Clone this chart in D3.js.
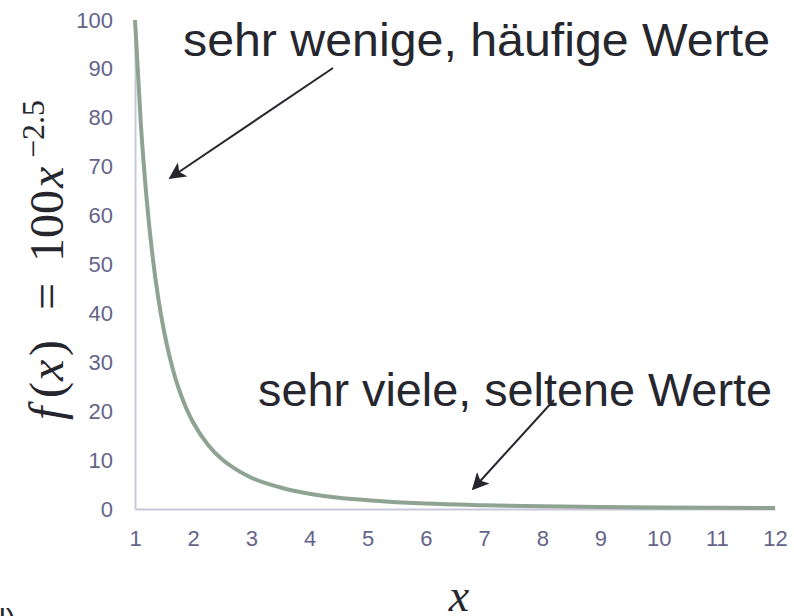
<!DOCTYPE html>
<html>
<head>
<meta charset="utf-8">
<script src="https://cdn.jsdelivr.net/npm/d3@7"></script>
<style>
  body { margin: 0; background: #fff; }
  svg { display: block; }
  .tick text { font-family: "Liberation Sans", Arial, sans-serif; font-size: 22px; }
</style>
</head>
<body>
<svg id="chart" width="794" height="616"></svg>
<script>
const xVals = [1, 1.1, 1.2, 1.3, 1.4, 1.5, 1.6, 1.7, 1.8, 1.9, 2, 2.25, 2.5, 2.75, 3, 3.5, 4, 4.5, 5, 6, 7, 8, 9, 10, 11, 12];
const yVals = [100, 78.8, 63.4, 51.9, 43.1, 36.3, 30.9, 26.5, 23.0, 20.1, 17.7, 13.2, 10.1, 8.0, 6.4, 4.4, 3.1, 2.3, 1.8, 1.1, 0.77, 0.55, 0.41, 0.32, 0.25, 0.2];
const xTicks = [1, 2, 3, 4, 5, 6, 7, 8, 9, 10, 11, 12];
const yTicks = [0, 10, 20, 30, 40, 50, 60, 70, 80, 90, 100];
const noteHaut = 'sehr wenige, häufige Werte';
const noteBas = 'sehr viele, seltene Werte';

var marge = {haut: 20, droite: 19, bas: 107, gauche: 135};
var largeur = 794, hauteur = 616;

const svg = d3.select('#chart');

var xScale = d3.scaleLinear().domain([1, 12]).range([marge.gauche, largeur - marge.droite]);
var yScale = d3.scaleLinear().domain([0, 100]).range([hauteur - marge.bas, marge.haut]);

const couleurAxe = '#c8c8d8';
const couleurTexte = '#64648a';

// axes
var xAxis = g => g
    .attr('transform', `translate(0, ${yScale(0)})`)
    .call(d3.axisBottom(xScale).tickValues(xTicks).tickFormat(d3.format('d')).tickSize(0).tickPadding(21));
var yAxis = g => g
    .attr('transform', `translate(${marge.gauche},0)`)
    .call(d3.axisLeft(yScale).tickValues(yTicks).tickSize(0).tickPadding(22));

svg.append('g').attr('class', 'axeY').call(yAxis);
svg.append('g').attr('class', 'axeX').call(xAxis);

svg.selectAll('.domain').attr('stroke', couleurAxe).attr('stroke-width', 2);
svg.selectAll('.tick text').attr('fill', couleurTexte);

// courbe
const points = xVals.map((x, i) => [x, yVals[i]]);
var ligne = d3.line()
    .x(d => xScale(d[0]))
    .y(d => yScale(d[1]))
    .curve(d3.curveMonotoneX);

svg.append('path')
    .datum(points)
    .attr('d', ligne)
    .attr('fill', 'none')
    .attr('stroke', '#8fa393')
    .attr('stroke-width', 4);

// fleches
const defs = svg.append('defs');
defs.append('marker')
    .attr('id', 'fleche')
    .attr('viewBox', '0 0 10 10')
    .attr('refX', 9).attr('refY', 5)
    .attr('markerWidth', 17).attr('markerHeight', 17)
    .attr('markerUnits', 'userSpaceOnUse')
    .attr('orient', 'auto')
    .append('path')
    .attr('d', 'M0,0 L10,5 L0,10 L2.5,5 Z')
    .attr('fill', '#26262e');

function fleche(x1, y1, x2, y2) {
    svg.append('line')
        .attr('x1', x1).attr('y1', y1)
        .attr('x2', x2).attr('y2', y2)
        .attr('stroke', '#26262e')
        .attr('stroke-width', 2)
        .attr('marker-end', 'url(#fleche)');
}
fleche(333, 68, 170, 178);
fleche(554, 400, 473, 489);

// annotations
const police = '"Liberation Sans", Arial, sans-serif';
svg.append('text')
    .attr('x', 183).attr('y', 56)
    .attr('textLength', 587).attr('lengthAdjust', 'spacingAndGlyphs')
    .style('font-family', police).style('font-size', '46px')
    .attr('fill', '#26262e')
    .text(noteHaut);
svg.append('text')
    .attr('x', 258).attr('y', 406)
    .attr('textLength', 514).attr('lengthAdjust', 'spacingAndGlyphs')
    .style('font-family', police).style('font-size', '46px')
    .attr('fill', '#26262e')
    .text(noteBas);

// titre de l'axe Y (formule), place morceau par morceau
const serif = '"Liberation Serif", "Times New Roman", serif';
const titreY = svg.append('text')
    .attr('transform', 'translate(63, 422) rotate(-90)')
    .style('font-family', serif).style('font-size', '48px')
    .attr('fill', '#26262e');
titreY.append('tspan').attr('x', 2).style('font-style', 'italic').text('f');
titreY.append('tspan').attr('x', 24).text('(');
titreY.append('tspan').attr('x', 41).style('font-style', 'italic').text('x');
titreY.append('tspan').attr('x', 66).text(')');
titreY.append('tspan').attr('x', 112).text('=');
titreY.append('tspan').attr('x', 160).text('100');
titreY.append('tspan').attr('x', 234).style('font-style', 'italic').text('x');
titreY.append('tspan').attr('x', 264).attr('dy', -19).style('font-size', '32px').text('−2.5');

// titre de l'axe X
svg.append('text')
    .attr('x', 459).attr('y', 611)
    .attr('text-anchor', 'middle')
    .style('font-family', serif).style('font-size', '46px').style('font-style', 'italic')
    .attr('fill', '#26262e')
    .text('x');

// reste de texte coupé en bas à gauche
svg.append('text')
    .attr('x', -1).attr('y', 630)
    .style('font-family', police).style('font-size', '30px')
    .attr('fill', '#26262e')
    .text('l)');
</script>
</body>
</html>
